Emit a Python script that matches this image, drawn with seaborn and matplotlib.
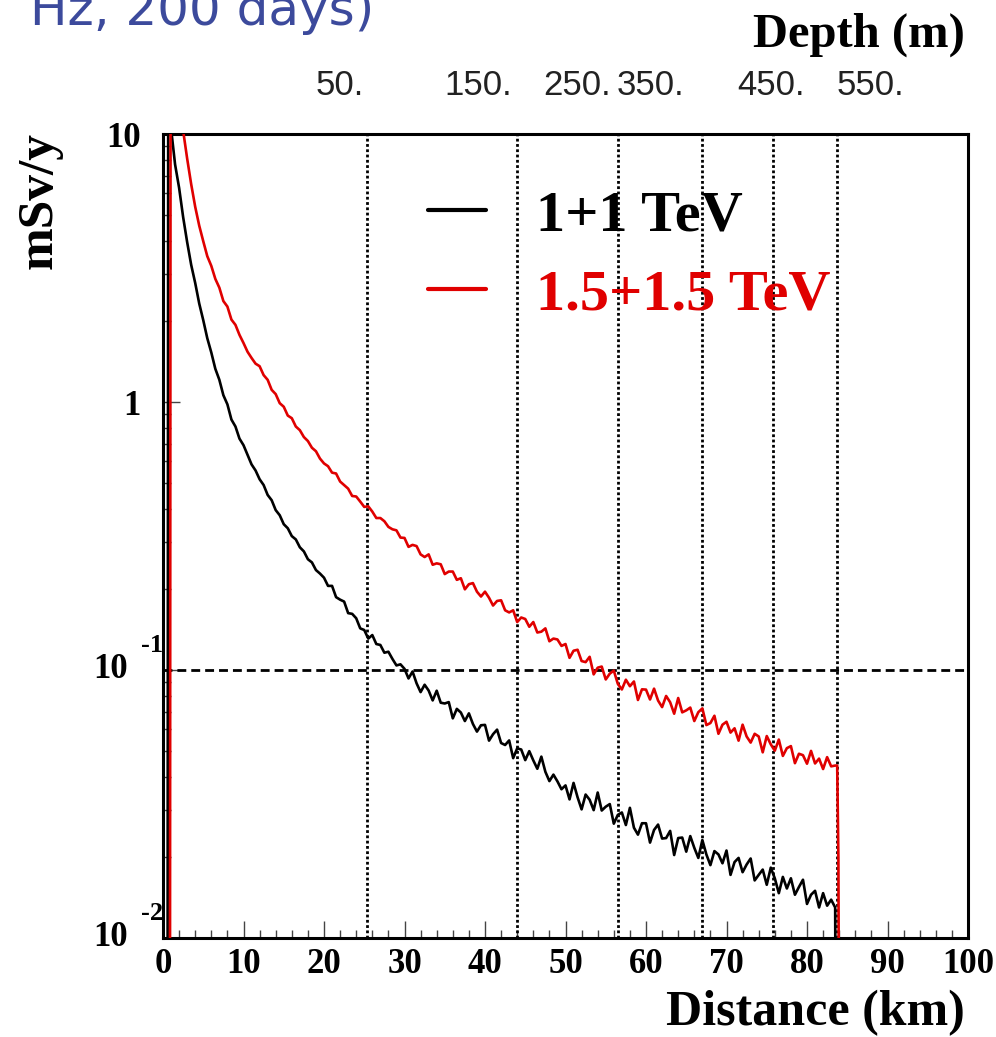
import numpy as np
import pandas as pd
import matplotlib
matplotlib.use('Agg')
import matplotlib.pyplot as plt
import matplotlib.transforms as mtransforms
from matplotlib.ticker import MultipleLocator, FixedLocator, NullFormatter
import seaborn as sns

# ---------------- data ----------------
series_names = ['1+1 TeV', '1.5+1.5 TeV']
series_colors = ['#000000', '#e00000']

black_km_head = [0.55, 0.65, 1.0, 1.5, 2.0, 2.5, 3.0, 3.5, 4.0, 4.5, 5.0, 5.5, 6.0, 6.5,
                 7.0, 7.5, 8.0, 8.5, 9.0, 9.5, 10.0, 10.5, 11.0, 11.5, 12.0, 12.5, 13.0,
                 13.5, 14.0, 14.5, 15.0, 15.5, 16.0, 16.5, 17.0, 17.5, 18.0, 18.5, 19.0, 19.5]
black_dose_head = [0.0008, 20.0, 10.5, 7.7, 6.3, 4.9, 3.95, 3.25, 2.78, 2.33, 2.02, 1.73, 1.53, 1.33,
                   1.21, 1.06, 0.98, 0.86, 0.81, 0.73, 0.69, 0.635, 0.585, 0.555, 0.515, 0.49, 0.45,
                   0.43, 0.395, 0.378, 0.35, 0.338, 0.316, 0.307, 0.287, 0.277, 0.259, 0.252, 0.236, 0.229]

body_km = [20.0 + 0.5 * i for i in range(128)]

black_dose_body = [
    0.221, 0.206, 0.206, 0.187, 0.183, 0.180, 0.163, 0.162, 0.156, 0.143,
    0.141, 0.131, 0.135, 0.125, 0.124, 0.116, 0.117, 0.110, 0.104, 0.105,
    0.101, 0.093, 0.0987, 0.0892, 0.0827, 0.0881, 0.0838, 0.0770, 0.0837, 0.0755,
    0.0750, 0.0759, 0.0660, 0.0716, 0.0694, 0.0645, 0.0689, 0.0629, 0.0589, 0.0622,
    0.0624, 0.0545, 0.0576, 0.0599, 0.0534, 0.0525, 0.0546, 0.0469, 0.0510, 0.0505,
    0.0461, 0.0498, 0.0460, 0.0428, 0.0475, 0.0417, 0.0385, 0.0407, 0.0384, 0.0359,
    0.0371, 0.0329, 0.0379, 0.0335, 0.0302, 0.0343, 0.0328, 0.0300, 0.0349, 0.0299,
    0.0309, 0.0316, 0.0267, 0.0288, 0.0294, 0.0264, 0.0306, 0.0258, 0.0243, 0.0268,
    0.0268, 0.0227, 0.0253, 0.0265, 0.0235, 0.0236, 0.0251, 0.0204, 0.0236, 0.0237,
    0.0210, 0.0240, 0.0217, 0.0199, 0.0232, 0.0205, 0.0187, 0.0211, 0.0205, 0.0190,
    0.0212, 0.0172, 0.0192, 0.0199, 0.0176, 0.0188, 0.0198, 0.0164, 0.0172, 0.0180,
    0.0158, 0.0183, 0.0167, 0.0147, 0.0169, 0.0153, 0.0167, 0.0145, 0.0155, 0.0165,
    0.0134, 0.0145, 0.0150, 0.0130, 0.0147, 0.0132, 0.0139, 0.0130]

black_km_tail = [83.65]
black_dose_tail = [0.0008]

red_km_head = [0.85, 0.95, 2.0, 2.5, 3.0, 3.5, 4.0, 4.5, 5.0, 5.5, 6.0, 6.5, 7.0, 7.5,
               8.0, 8.5, 9.0, 9.5, 10.0, 10.5, 11.0, 11.5, 12.0, 12.5, 13.0, 13.5, 14.0,
               14.5, 15.0, 15.5, 16.0, 16.5, 17.0, 17.5, 18.0, 18.5, 19.0, 19.5]
red_dose_head = [0.0008, 40.0, 13.0, 10.3, 8.1, 6.5, 5.35, 4.55, 3.98, 3.5, 3.22, 2.88, 2.67, 2.38,
                 2.27, 2.03, 1.94, 1.78, 1.66, 1.54, 1.46, 1.39, 1.36, 1.26, 1.21, 1.11, 1.07,
                 0.99, 0.96, 0.89, 0.87, 0.81, 0.785, 0.74, 0.715, 0.675, 0.655, 0.615]

red_dose_body = [
    0.590, 0.576, 0.545, 0.541, 0.505, 0.490, 0.475, 0.446, 0.444, 0.425,
    0.406, 0.408, 0.390, 0.369, 0.369, 0.359, 0.342, 0.335, 0.332, 0.312,
    0.311, 0.288, 0.293, 0.290, 0.270, 0.264, 0.270, 0.247, 0.250, 0.248,
    0.228, 0.233, 0.233, 0.217, 0.220, 0.200, 0.209, 0.211, 0.196, 0.188,
    0.196, 0.186, 0.174, 0.181, 0.182, 0.167, 0.164, 0.167, 0.151, 0.157,
    0.155, 0.145, 0.151, 0.138, 0.139, 0.143, 0.128, 0.131, 0.130, 0.123,
    0.125, 0.111, 0.118, 0.119, 0.108, 0.107, 0.112, 0.0963, 0.102, 0.103,
    0.0922, 0.0969, 0.0995, 0.0888, 0.0846, 0.0920, 0.0870, 0.0906, 0.0773, 0.0847,
    0.0845, 0.0776, 0.0852, 0.0769, 0.0727, 0.0800, 0.0758, 0.0687, 0.0786, 0.0695,
    0.0707, 0.0724, 0.0645, 0.0696, 0.0719, 0.0623, 0.0634, 0.0675, 0.0578, 0.0625,
    0.0641, 0.0584, 0.0606, 0.0545, 0.0625, 0.0565, 0.0536, 0.0578, 0.0565, 0.0493,
    0.0567, 0.0528, 0.0500, 0.0550, 0.0478, 0.0511, 0.0520, 0.0449, 0.0487, 0.0481,
    0.0447, 0.0499, 0.0448, 0.0467, 0.0427, 0.0473, 0.0437, 0.0440]

red_km_tail = [83.75, 83.9, 84.05]
red_dose_tail = [0.044, 0.02, 0.0008]

boundary_km = [25.3, 44.0, 56.5, 67.0, 75.8, 83.7]
limit_dose = 0.1

depth_labels = ['50.', '150.', '250.', '350.', '450.', '550.']
depth_label_km = [18.9, 35.0, 47.2, 56.4, 71.3, 83.7]

x_ticks = list(range(0, 101, 10))

# ---------------- figure ----------------
sns.set_style('white')
plt.rcParams['font.family'] = ['Liberation Serif', 'DejaVu Serif']
plt.rcParams['font.weight'] = 'bold'
plt.rcParams['text.color'] = 'black'
plt.rcParams['axes.labelcolor'] = 'black'
plt.rcParams['xtick.color'] = 'black'
plt.rcParams['ytick.color'] = 'black'
plt.rcParams['axes.linewidth'] = 2.2

fig = plt.figure(figsize=(9.96, 10.37), dpi=100)
W, H = 996.0, 1037.0
ax = fig.add_axes([163 / W, (H - 938) / H, 805 / W, 804 / H])

black_km = black_km_head + body_km + black_km_tail
black_dose = black_dose_head + black_dose_body + black_dose_tail
red_km = red_km_head + body_km + red_km_tail
red_dose = red_dose_head + red_dose_body + red_dose_tail

df = pd.DataFrame({
    'km': black_km + red_km,
    'dose': black_dose + red_dose,
    'energy': [series_names[0]] * len(black_km) + [series_names[1]] * len(red_km),
})

sns.lineplot(data=df, x='km', y='dose', hue='energy', hue_order=series_names,
             palette=dict(zip(series_names, series_colors)), estimator=None,
             sort=False, linewidth=1.9, ax=ax, zorder=3)

ax.set_yscale('log')
ax.set_xlim(0, 100)
ax.set_ylim(0.01, 10)

for b in boundary_km:
    ax.axvline(b, color='black', lw=2.0, ls=(0, (1, 0.9)), zorder=2)
ax.axhline(limit_dose, color='black', lw=2.0, ls=(0, (3.2, 1.8)), zorder=2)

for s in ax.spines.values():
    s.set_color('black')
    s.set_linewidth(2.2)

# x ticks
ax.set_xticks(x_ticks)
ax.set_xticklabels([str(t) for t in x_ticks])
ax.xaxis.set_minor_locator(MultipleLocator(2))
ax.tick_params(axis='x', which='major', direction='in', length=12, width=1.0,
               color='#444444', labelsize=25, pad=7, bottom=True, top=False,
               labelcolor='black')
ax.tick_params(axis='x', which='minor', direction='in', length=6, width=1.0,
               color='#444444', bottom=True, top=False)

# y ticks
ax.yaxis.set_major_locator(FixedLocator([0.01, 0.1, 1, 10]))
ax.set_yticklabels(['', '', '1', '10'])
minor_y = [m * 10.0 ** e for e in (-2, -1, 0) for m in range(2, 10)]
ax.yaxis.set_minor_locator(FixedLocator(minor_y))
ax.yaxis.set_minor_formatter(NullFormatter())
ax.tick_params(axis='y', which='major', direction='in', length=12, width=1.0,
               color='#444444', labelsize=25, pad=16, left=True, right=False,
               labelcolor='black')
ax.tick_params(axis='y', which='minor', direction='in', length=6, width=1.0,
               color='#444444', left=True, right=False)
for lbl in ax.get_xticklabels() + ax.get_yticklabels():
    lbl.set_fontweight('bold')

ax.set_xlabel('')
ax.set_ylabel('')

# 10^-1 and 10^-2 labels in ROOT style
blend = mtransforms.blended_transform_factory(ax.transAxes, ax.transData)
for val, exp in [(0.1, '-1'), (0.01, '-2')]:
    ax.text(-0.0435, val, '10', transform=blend, ha='right', va='center',
            fontsize=25, fontweight='bold', color='black', clip_on=False)
    up = mtransforms.offset_copy(blend, fig=fig, x=0, y=24, units='dots')
    ax.text(-0.027, val, exp, transform=up, ha='left', va='center',
            fontsize=19, fontweight='bold', color='black', clip_on=False)

# legend
handles, labels = ax.get_legend_handles_labels()
leg = ax.legend(handles, labels, loc='upper left',
                bbox_to_anchor=(428 / W, 1 - 190 / H), bbox_transform=fig.transFigure,
                frameon=False, prop={'family': 'Liberation Serif', 'weight': 'bold', 'size': 42},
                handlelength=1.0, handletextpad=0.85, labelspacing=0.45,
                borderpad=0, borderaxespad=0, labelcolor='linecolor')
for ln in leg.get_lines():
    ln.set_linewidth(3.0)

# axis titles
fig.text(965 / W, 1 - 1025 / H, 'Distance (km)', ha='right', va='baseline',
         fontsize=36, fontweight='bold', color='black')
fig.text(965 / W, 1 - 47 / H, 'Depth (m)', ha='right', va='baseline',
         fontsize=35, fontweight='bold', color='black')
fig.text(40 / W, 1 - 200 / H, 'mSv/y', ha='center', va='center', rotation=90,
         fontsize=37, fontweight='bold', color='black')

# depth labels along the top
depth_tr = mtransforms.blended_transform_factory(ax.transData, fig.transFigure)
for km, lab in zip(depth_label_km, depth_labels):
    ax.text(km, 1 - 95 / H, lab, transform=depth_tr, ha='left', va='baseline',
            fontsize=25, fontweight='normal', family='Liberation Sans',
            color='#222222', clip_on=False)

# cut-off title at the top
fig.text(30 / W, 1 - 25 / H, 'Hz, 200 days)', ha='left', va='baseline',
         fontsize=36, fontweight='normal', family='DejaVu Sans', color='#3c4a9c')

fig.savefig('out.png', dpi=100, facecolor='white')
